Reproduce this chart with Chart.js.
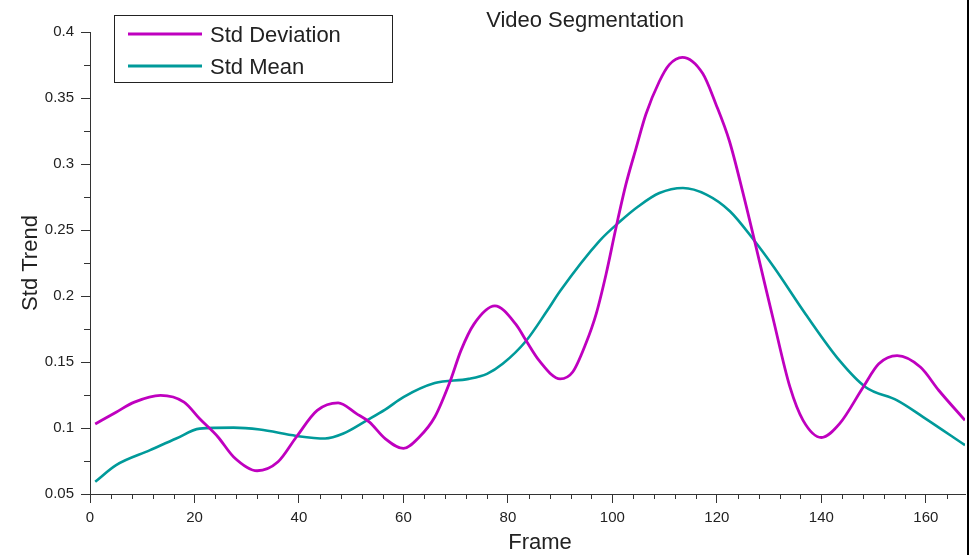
<!DOCTYPE html>
<html>
<head>
<meta charset="utf-8">
<script src="https://cdn.jsdelivr.net/npm/chart.js@4.4.1/dist/chart.umd.min.js"></script>
<style>
  html, body { margin: 0; padding: 0; background: #fff; }
  #wrap { width: 971px; height: 555px; position: relative; }
</style>
</head>
<body>
<div id="wrap"><canvas id="c" width="971" height="555"></canvas></div>
<script>
// Texts
const chartTitle = 'Video Segmentation';
const xTitle = 'Frame';
const yTitle = 'Std Trend';
const seriesNames = ['Std Deviation', 'Std Mean'];

// Axis ticks
const xTicks = [0, 20, 40, 60, 80, 100, 120, 140, 160];
const yTicks = [0.05, 0.1, 0.15, 0.2, 0.25, 0.3, 0.35, 0.4];

// Std Deviation per frame
const devFrames = [1, 5, 8.5, 13.5, 18, 21, 24.5, 27.5, 32, 36, 39.5, 43.5, 47.5, 51, 53.5, 56.5, 60, 63, 66, 69, 71, 73.5, 77.5, 81.5, 83.5, 86, 90, 92.4, 94.9, 96.9, 98.8, 100.7, 102.6, 104.5, 106.4, 109, 110.9, 113.4, 117.3, 119.8, 122.4, 124.9, 130.7, 134, 136.5, 140, 143.5, 148, 151, 154.5, 159, 162.5, 167.5];
const devValues = [0.103, 0.112, 0.1196, 0.1247, 0.1196, 0.107, 0.0932, 0.0781, 0.0676, 0.0744, 0.0932, 0.1133, 0.119, 0.1109, 0.1045, 0.092, 0.0845, 0.093, 0.1083, 0.136, 0.1586, 0.1787, 0.1925, 0.1787, 0.1661, 0.151, 0.1372, 0.1424, 0.1638, 0.1865, 0.2167, 0.2519, 0.2847, 0.3115, 0.3375, 0.3627, 0.3753, 0.3808, 0.3685, 0.3455, 0.3174, 0.2796, 0.1839, 0.1309, 0.1058, 0.0928, 0.1033, 0.1309, 0.1486, 0.1548, 0.146, 0.1284, 0.1058];

// Std Mean per frame
const meanFrames = [1, 5, 11.5, 16.5, 21, 27.5, 32.5, 39.5, 45, 48.5, 53, 56.5, 60, 66, 72.5, 76, 79, 83.5, 87.5, 90, 97.5, 101.5, 105, 109, 113.5, 118, 122.5, 127, 131, 137, 143.5, 148.5, 154.5, 159.5, 167.5];
const meanValues = [0.0593, 0.0719, 0.0832, 0.092, 0.0995, 0.1003, 0.0988, 0.094, 0.092, 0.0958, 0.1058, 0.1139, 0.1234, 0.134, 0.1372, 0.141, 0.1486, 0.1661, 0.1888, 0.2038, 0.2416, 0.2566, 0.268, 0.278, 0.2818, 0.2768, 0.2642, 0.2428, 0.2214, 0.1862, 0.151, 0.1309, 0.1209, 0.1083, 0.087];

const seriesColors = ['#bf00bf', '#009a9a'];
const FONT = '"Liberation Sans", Arial, Helvetica, sans-serif';
const INK = '#222';
const AXIS = '#333';

const toPoints = (xs, ys) => xs.map((x, i) => ({ x: x, y: ys[i] }));

// Minor ticks, the boxed legend, title, x-axis title and the right frame edge
const decorations = {
  id: 'decorations',
  afterDraw(chart) {
    const ctx = chart.ctx;
    const xs = chart.scales.x, ys = chart.scales.y;
    const area = chart.chartArea;
    ctx.save();

    // minor ticks
    ctx.strokeStyle = AXIS;
    ctx.lineWidth = 1;
    ctx.beginPath();
    for (let v = 4; v <= xs.max; v += 4) {
      if (v % 20 === 0) continue;
      const px = Math.round(xs.getPixelForValue(v)) + 0.5;
      ctx.moveTo(px, area.bottom);
      ctx.lineTo(px, area.bottom + 5);
    }
    for (let k = 0; k < yTicks.length - 1; k++) {
      const v = (yTicks[k] + yTicks[k + 1]) / 2;
      const py = Math.round(ys.getPixelForValue(v)) + 0.5;
      ctx.moveTo(area.left, py);
      ctx.lineTo(area.left - 6, py);
    }
    ctx.stroke();

    // legend box
    ctx.fillStyle = '#fff';
    ctx.fillRect(114, 15, 278, 68);
    ctx.strokeStyle = '#222';
    ctx.lineWidth = 1;
    ctx.strokeRect(114.5, 15.5, 278, 67);
    ctx.font = '22px ' + FONT;
    ctx.textAlign = 'left';
    ctx.textBaseline = 'alphabetic';
    chart.data.datasets.forEach((ds, i) => {
      const y = 34 + i * 32;
      ctx.strokeStyle = ds.borderColor;
      ctx.lineWidth = 3;
      ctx.beginPath();
      ctx.moveTo(128, y);
      ctx.lineTo(202, y);
      ctx.stroke();
      ctx.fillStyle = INK;
      ctx.fillText(ds.label, 210, y + 8);
    });

    // title
    ctx.fillStyle = INK;
    ctx.textAlign = 'center';
    ctx.font = '22px ' + FONT;
    ctx.fillText(chartTitle, 585, 27);

    // x-axis title
    ctx.fillText(xTitle, 540, 549);

    // right frame edge
    ctx.fillStyle = '#000';
    ctx.fillRect(967, 0, 2, chart.height);
    ctx.restore();
  }
};

new Chart(document.getElementById('c'), {
  type: 'line',
  data: {
    datasets: [
      {
        label: seriesNames[0],
        data: toPoints(devFrames, devValues),
        borderColor: seriesColors[0],
        borderWidth: 2.8,
        pointRadius: 0,
        cubicInterpolationMode: 'monotone',
        fill: false
      },
      {
        label: seriesNames[1],
        data: toPoints(meanFrames, meanValues),
        borderColor: seriesColors[1],
        borderWidth: 2.6,
        pointRadius: 0,
        cubicInterpolationMode: 'monotone',
        fill: false
      }
    ]
  },
  options: {
    responsive: false,
    animation: false,
    devicePixelRatio: 1,
    layout: { padding: { top: 32, right: 6, bottom: 0, left: 0 } },
    plugins: {
      legend: { display: false },
      title: { display: false },
      tooltip: { enabled: false }
    },
    scales: {
      x: {
        type: 'linear',
        min: 0,
        max: 167.5,
        afterBuildTicks: s => { s.ticks = xTicks.map(v => ({ value: v })); },
        afterFit: s => { s.height = 61; },
        ticks: {
          color: INK,
          font: { family: FONT, size: 15 },
          padding: 6,
          maxRotation: 0,
          autoSkip: false
        },
        grid: { drawOnChartArea: false, drawTicks: true, tickLength: 9, tickColor: AXIS, tickWidth: 1 },
        border: { display: true, color: AXIS, width: 1 }
      },
      y: {
        type: 'linear',
        min: 0.05,
        max: 0.4,
        afterBuildTicks: s => { s.ticks = yTicks.map(v => ({ value: v })); },
        afterFit: s => { s.width = 90; },
        ticks: {
          color: INK,
          font: { family: FONT, size: 15 },
          padding: 7,
          autoSkip: false,
          callback: v => String(+Number(v).toFixed(2))
        },
        grid: { drawOnChartArea: false, drawTicks: true, tickLength: 9, tickColor: AXIS, tickWidth: 1 },
        border: { display: true, color: AXIS, width: 1 },
        title: {
          display: true,
          text: yTitle,
          color: INK,
          font: { family: FONT, size: 22 },
          padding: { top: 18, bottom: 0 }
        }
      }
    }
  },
  plugins: [decorations]
});
</script>
</body>
</html>
